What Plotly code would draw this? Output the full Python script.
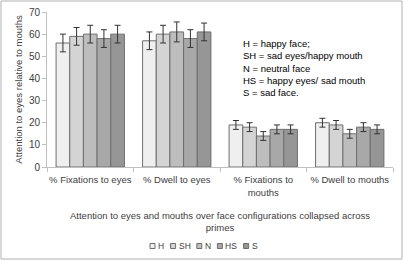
import plotly.graph_objects as go

categories = ["% Fixations to eyes", "% Dwell to eyes", "% Fixations to<br>mouths", "% Dwell to mouths"]
series_names = ["H", "SH", "N", "HS", "S"]
values = {
    "H":  [56, 57, 19, 20],
    "SH": [59, 60, 18, 19],
    "N":  [60, 61, 14, 15],
    "HS": [58, 58, 17, 18],
    "S":  [60, 61, 17, 17],
}
errors = {
    "H":  [4, 4, 2, 2],
    "SH": [4, 4, 2, 2],
    "N":  [4, 4.5, 2, 2],
    "HS": [4, 4, 2, 2],
    "S":  [4, 4, 2, 2],
}
colors = ["#efefef", "#d4d4d4", "#bdbdbd", "#a8a8a8", "#969696"]
y_ticks = [0, 10, 20, 30, 40, 50, 60, 70]

font = "Liberation Sans"
txt = "#404040"

L, R, T, B = 47, 11, 12, 94
W, H = 404, 261
PW, PH = W - L - R, H - T - B


def px_x(px):
    return (px - L) / PW


def px_y(py):
    return (H - B - py) / PH


fig = go.Figure()
for name, col in zip(series_names, colors):
    fig.add_trace(go.Bar(
        name=name, x=categories, y=values[name],
        marker=dict(color=col, line=dict(color="#6e6e6e", width=1)),
        error_y=dict(type="data", array=errors[name], color="#333333", thickness=1, width=3),
        showlegend=False,
    ))

# compact legend built from the series names / colours
shapes = [dict(type="rect", xref="paper", yref="paper",
               x0=px_x(1), x1=px_x(402), y0=px_y(259), y1=px_y(1),
               line=dict(color="#b0b0b0", width=1), fillcolor="rgba(0,0,0,0)")]
annotations = []
lx = 150.0
ly = 246.0
for name, col in zip(series_names, colors):
    shapes.append(dict(type="rect", xref="paper", yref="paper",
                       x0=px_x(lx), x1=px_x(lx + 5), y0=px_y(ly + 2.5), y1=px_y(ly - 2.5),
                       line=dict(color="#6e6e6e", width=1), fillcolor=col))
    annotations.append(dict(xref="paper", yref="paper", x=px_x(lx + 6), y=px_y(ly),
                            xanchor="left", yanchor="middle", showarrow=False,
                            text=name, font=dict(size=8.5, color=txt)))
    lx += 6 + 5.6 * len(name) + 9

annotations.append(dict(xref="paper", yref="paper", x=px_x(241), y=px_y(36),
                        xanchor="left", yanchor="top", align="left", showarrow=False,
                        text="H = happy face;<br>SH = sad eyes/happy mouth<br>N = neutral face<br>HS = happy eyes/ sad mouth<br>S = sad face.",
                        font=dict(size=9.5, color="#000000")))
annotations.append(dict(xref="paper", yref="paper", x=0.5, y=px_y(208),
                        xanchor="center", yanchor="top", showarrow=False,
                        text="Attention to eyes and mouths over face configurations collapsed across<br>primes",
                        font=dict(size=9.5, color=txt)))

fig.update_layout(
    width=W, height=H,
    margin=dict(l=L, r=R, t=T, b=B),
    paper_bgcolor="white", plot_bgcolor="white",
    barmode="group", bargap=0.21, bargroupgap=0,
    font=dict(family=font, size=9, color=txt),
    showlegend=False,
    xaxis=dict(showline=True, linecolor="#bfbfbf", ticks="outside", tickcolor="#bfbfbf",
               ticklen=4, tickson="boundaries", showgrid=False, tickangle=0,
               ticklabelstandoff=4,
               tickfont=dict(size=9.5, color=txt), automargin=False),
    yaxis=dict(range=[0, 70], tickvals=y_ticks, showline=True, linecolor="#bfbfbf",
               ticks="outside", tickcolor="#bfbfbf", ticklen=4, showgrid=False,
               zeroline=False, tickfont=dict(size=10, color=txt), automargin=False,
               title=dict(text="Attention to eyes relative to mouths",
                          font=dict(size=9.5, color=txt), standoff=4)),
    shapes=shapes,
    annotations=annotations,
)

fig.write_html("out.html")
